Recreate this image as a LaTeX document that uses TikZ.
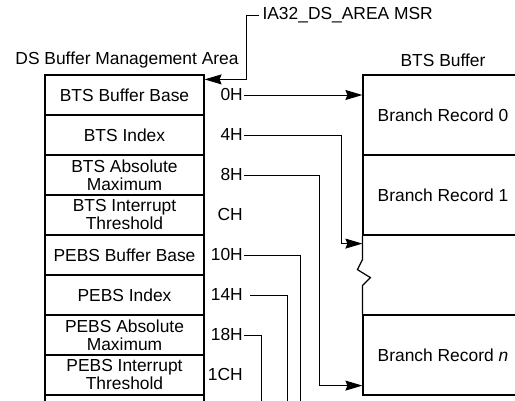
\documentclass[tikz,border=0pt]{standalone}
\usepackage{fontspec}
\setmainfont{Liberation Sans}
\usetikzlibrary{arrows.meta}
\begin{document}
\begin{tikzpicture}[x=1pt,y=-1pt,font=\fontsize{17.4}{18}\selectfont,
        field/.style={draw,line width=1.2pt,minimum width=159pt,minimum height=40pt,inner sep=0pt,align=center},
        record/.style={draw,line width=1.2pt,minimum width=160pt,minimum height=80pt,inner sep=0pt},
        offset/.style={anchor=east,inner sep=1pt},
        link/.style={line width=1pt},
        arr/.style={link,-{Stealth[length=17pt,width=10pt,inset=2pt]}}]
            \useasboundingbox (0,0) rectangle (515,400);
            \clip (0,0) rectangle (515,400);
            \node (dsarea) at (127,60) {DS Buffer Management Area};
            \node (btsbuf) at (443,60) {BTS Buffer};
            \node[anchor=west] (msr) at (259,15) {IA32\_DS\_AREA MSR};

            \foreach \i/\txt/\off in {0/{BTS Buffer Base}/0H, 1/{BTS Index}/4H,
                    2/{BTS Absolute\\Maximum}/8H, 3/{BTS Interrupt\\Threshold}/CH,
                    4/{PEBS Buffer Base}/10H, 5/{PEBS Index}/14H,
                    6/{PEBS Absolute\\Maximum}/18H, 7/{PEBS Interrupt\\Threshold}/1CH}
                {\node[field] (f\i) at (124.5,{95+40*\i}) {\txt};
                 \node[offset] (o\i) at (244,{95+40*\i}) {\off};}
            \node[field] (f8) at (124.5,415) {};

            \node[record] (r0) at (443,115) {Branch Record 0};
            \node[record] (r1) at (443,195) {Branch Record 1};
            \node[record] (r3) at (443,355) {Branch Record \textit{n}};
            \draw[line width=1.2pt] (r1.south west) -- ++(0,24) -- ++(-5,10) -- ++(13,8) -- ++(-8,8) -- (r3.north west);

            \coordinate (dsbase) at ([yshift=-5pt]f0.north east);
            \draw[arr] (msr.west) -| ([xshift=42pt]dsbase) -- (dsbase);

            \draw[arr] (o0.east) -- (o0.east -| r0.west);
            \coordinate (gaptop) at ([yshift=-8pt]r1.south west);
            \draw[arr] (o1.east) -| ([xshift=-21pt]gaptop) -- (gaptop);
            \coordinate (recn) at ([yshift=10pt]r3.south west);
            \draw[arr] (o2.east) -| ([xshift=-43pt]recn) -- (recn);

            \coordinate (pebs0) at (300,410);
            \coordinate (pebs1) at (287,410);
            \coordinate (pebs2) at (261,410);
            \draw[link] (o4.east) -| (pebs0);
            \draw[link] ([xshift=6pt]o5.east) -| (pebs1);
            \draw[link] (o6.east) -| (pebs2);
        \end{tikzpicture}
\end{document}
